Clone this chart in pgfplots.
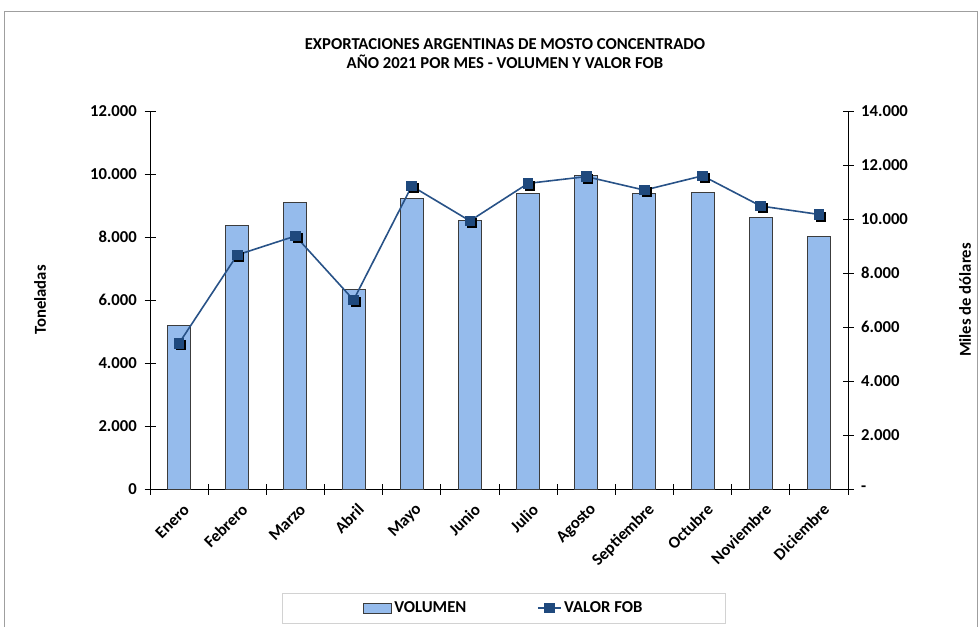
\documentclass[border=0pt]{standalone}
\usepackage{fontspec}
\setmainfont{Carlito}
\usepackage{pgfplots}
\pgfplotsset{compat=1.18}
\newlength{\upx}\setlength{\upx}{0.75pt}
\definecolor{barblue}{RGB}{149,187,236}
\definecolor{baredge}{RGB}{60,60,60}
\definecolor{fobblue}{RGB}{31,73,125}
\definecolor{fobline}{RGB}{40,82,135}

\begin{document}
\begin{tikzpicture}
\useasboundingbox (0,0) rectangle (980\upx,626\upx);
\draw[gray!75, line width=1\upx] (4\upx,-5\upx) -- (4\upx,614\upx) -- (977\upx,614\upx) -- (977\upx,-5\upx);

\pgfplotsset{
  base/.style={
    at={(150\upx,137\upx)}, anchor=south west,
    scale only axis, width=698\upx, height=378\upx,
    xmin=-0.5, xmax=11.5,
    font=\fontsize{12.5}{14}\selectfont\bfseries,
    tick align=center, major tick length=11\upx, minor tick length=11\upx,
    tick style={black, line width=0.8\upx},
    axis line style={black, line width=0.8\upx},
    scaled y ticks=false,
    /pgf/number format/assume math mode=true,
  }
}

% volumen (toneladas)
\begin{axis}[base,
  axis y line*=left, axis x line*=bottom,
  ymin=0, ymax=12000, ytick={0,2000,...,12000},
  yticklabels={0,2.000,4.000,6.000,8.000,10.000,12.000},
  xtick={0,...,11},
  xticklabels={Enero,Febrero,Marzo,Abril,Mayo,Junio,Julio,Agosto,Septiembre,Octubre,Noviembre,Diciembre},
  xtick style={draw=none},
  minor xtick={-0.5,0.5,...,11.5},
  minor x tick style={draw=black},
  xticklabel style={rotate=45, anchor=east, inner sep=1pt, yshift=-14\upx, xshift=-2\upx},
  yticklabel style={xshift=-3\upx},
  ylabel={Toneladas},
  ylabel style={at={(axis description cs:-0.1576,0.5)}, anchor=center},
  title={EXPORTACIONES ARGENTINAS DE MOSTO CONCENTRADO\\AÑO 2021 POR MES - VOLUMEN Y VALOR FOB},
  title style={align=center, at={(axis description cs:0.5086,1.13)}, anchor=center,
    font=\fontsize{12.5}{14.25}\selectfont\bfseries},
]
\addplot[ybar, bar width=23\upx, fill=barblue, draw=baredge, line width=1\upx] coordinates {
  (0,5200) (1,8350) (2,9090) (3,6340) (4,9210) (5,8510)
  (6,9390) (7,9940) (8,9390) (9,9420) (10,8610) (11,8030)
};
\end{axis}

% valor FOB (miles de dolares)
\begin{axis}[base,
  axis y line*=right, axis x line=none,
  ymin=0, ymax=14000, ytick={0,2000,...,14000},
  yticklabels={-,2.000,4.000,6.000,8.000,10.000,12.000,14.000},
  yticklabel style={xshift=3\upx},
  ylabel={Miles de dólares},
  ylabel style={at={(axis description cs:1.1676,0.5)}, anchor=center},
  legend style={at={(axis description cs:0.507,-0.315)}, anchor=center,
    legend columns=2, draw=gray!35, inner xsep=80\upx, inner ysep=6\upx,
    font=\fontsize{12.5}{14}\selectfont\bfseries,
    /tikz/every even column/.append style={column sep=68\upx}},
]
\addlegendimage{legend image code/.code={\draw[fill=barblue,draw=baredge,line width=1\upx] (0,-5\upx) rectangle (28\upx,5\upx);}}
\addlegendentry{VOLUMEN}
\addplot[black, only marks, mark=square*, mark size=4.5\upx, forget plot,
  mark options={xshift=2\upx, yshift=-2\upx}] coordinates {
  (0,5400) (1,8670) (2,9370) (3,7000) (4,11220) (5,9930)
  (6,11320) (7,11570) (8,11070) (9,11600) (10,10480) (11,10170)
};
\addplot[fobline, line width=1.6\upx, mark=square*, mark size=4.5\upx,
  mark options={fill=fobblue, draw=fobblue}] coordinates {
  (0,5400) (1,8670) (2,9370) (3,7000) (4,11220) (5,9930)
  (6,11320) (7,11570) (8,11070) (9,11600) (10,10480) (11,10170)
};
\addlegendentry{VALOR FOB}
\end{axis}
\end{tikzpicture}
\end{document}
